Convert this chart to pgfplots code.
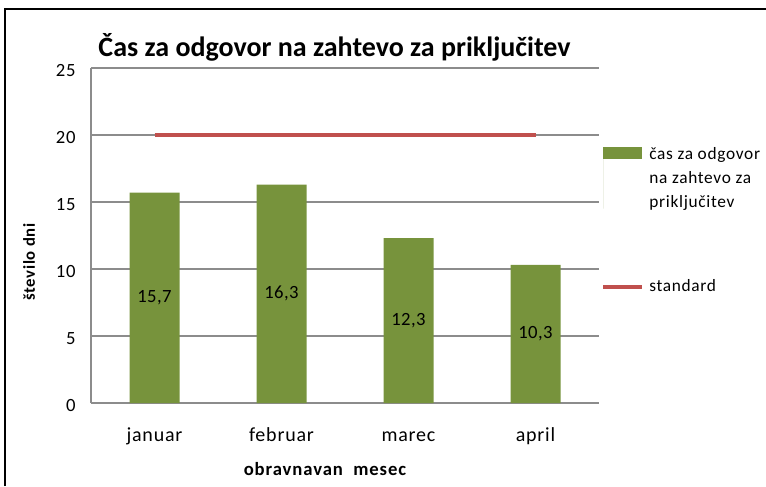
\documentclass[border=0pt]{standalone}
\usepackage{pgfplots}
\pgfplotsset{compat=1.18}
\usepackage{fontspec}
\setmainfont{Carlito}
\definecolor{bargreen}{HTML}{77933C}
\definecolor{stdred}{HTML}{C0504D}
\definecolor{gridgray}{HTML}{8C8C8C}
\begin{document}
\begin{tikzpicture}[x=1pt,y=1pt]
\useasboundingbox (0,0) rectangle (574.5,364.5);
\draw[line width=1.1pt] (3.75,0) -- (3.75,357.75) -- (574.5,357.75);
\begin{axis}[
  at={(68.25pt,62.25pt)}, anchor=south west,
  scale only axis, width=381pt, height=251.25pt,
  xmin=-0.5, xmax=3.5, ymin=0, ymax=25,
  ytick={0,5,...,25}, xtick={0,1,2,3},
  xticklabels={januar,februar,marec,april},
  ymajorgrids, grid style={gridgray, line width=0.8pt},
  axis x line*=bottom, axis y line*=left,
  axis line style={gridgray, line width=0.8pt, -},
  major tick length=0pt,
  /pgf/number format/assume math mode=true,
  yticklabel style={font=\fontsize{14}{16}\selectfont\addfontfeature{LetterSpace=4}, xshift=-8pt, yshift=-2pt},
  xticklabel style={font=\fontsize{15}{17}\selectfont\addfontfeature{LetterSpace=4}, anchor=base, yshift=-29pt},
  legend style={at={(1.004,0.773)}, anchor=north west, draw=none, fill=none,
    font=\fontsize{13}{18}\selectfont\addfontfeature{LetterSpace=4}, cells={align=left, anchor=west},
    row sep=49pt, column sep=2pt, inner sep=0pt},
]
\addplot[ybar, bar width=37.5pt, fill=bargreen, draw=none,
  nodes near coords={\pgfmathprintnumber[fixed,fixed zerofill,precision=1,use comma]{\pgfplotspointmeta}},
  nodes near coords style={font=\fontsize{14}{16}\selectfont\addfontfeature{LetterSpace=2}, black},
  visualization depends on=y \as \rawy,
  every node near coord/.append style={anchor=center, shift={(axis direction cs:0,-\rawy/2)}},
  legend image code/.code={\path (0pt,-23pt) -- (0pt,23pt);
    \fill[bargreen] (0pt,14pt) rectangle (29pt,23pt);}]
  coordinates {(0,15.7) (1,16.3) (2,12.3) (3,10.3)};
\addlegendentry{čas za odgovor\\na zahtevo za\\priključitev}
\addplot[stdred, line width=3pt,
  legend image code/.code={\draw[stdred, line width=3pt] (0pt,0pt) -- (29pt,0pt);}]
  coordinates {(0,20) (3,20)};
\addlegendentry{standard}
\end{axis}
\node[font=\bfseries\fontsize{21}{24}\selectfont, anchor=base] at (250.9,322) {Čas za odgovor na zahtevo za priključitev};
\node[font=\bfseries\fontsize{14}{16}\selectfont\addfontfeature{LetterSpace=5}] at (243.75,12.75) {obravnavan\ \ mesec};
\node[font=\bfseries\fontsize{12.5}{14}\selectfont\addfontfeature{LetterSpace=4}, rotate=90] at (21.75,168) {število dni};
\end{tikzpicture}
\end{document}
